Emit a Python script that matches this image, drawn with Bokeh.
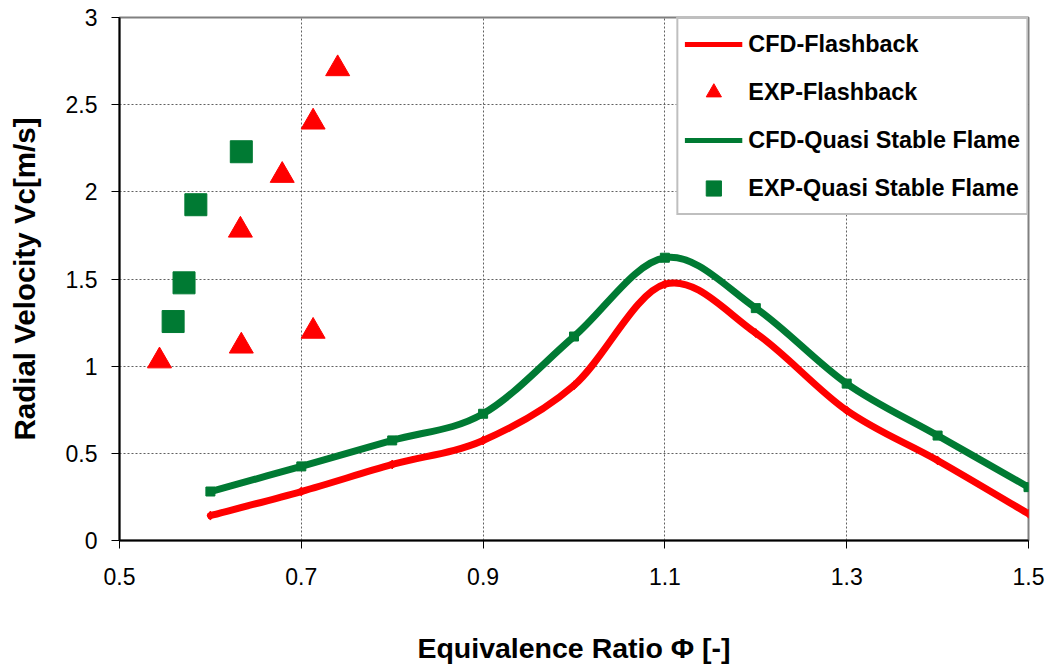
import numpy as np
from bokeh.plotting import figure
from bokeh.models import Range1d, FixedTicker, Legend, LegendItem, ColumnDataSource
from bokeh.embed import file_html
from bokeh.resources import INLINE

# ---- data ----
phi_cfd = [0.6, 0.7, 0.8, 0.9, 1.0, 1.1, 1.2, 1.3, 1.4, 1.5]
vc_cfd_flash = [0.143, 0.281, 0.436, 0.574, 0.89, 1.47, 1.19, 0.746, 0.459, 0.153]
vc_cfd_quasi = [0.281, 0.425, 0.574, 0.727, 1.17, 1.622, 1.333, 0.90, 0.602, 0.306]
phi_exp_flash = [0.544, 0.634, 0.713, 0.633, 0.679, 0.713, 0.740]
vc_exp_flash = [1.03, 1.115, 1.20, 1.78, 2.094, 2.40, 2.706]
phi_exp_quasi = [0.559, 0.571, 0.584, 0.634]
vc_exp_quasi = [1.256, 1.478, 1.926, 2.23]
x_ticks = [0.5, 0.7, 0.9, 1.1, 1.3, 1.5]
x_tick_labels = ["0.5", "0.7", "0.9", "1.1", "1.3", "1.5"]
y_ticks = [0, 0.5, 1, 1.5, 2, 2.5, 3]
y_tick_labels = ["0", "0.5", "1", "1.5", "2", "2.5", "3"]

RED = "#ff0000"
GREEN = "#007a33"
FONT = "Liberation Sans"


def bezier_source(x, y):
    """Excel-style smoothed line: cubic Bezier control points (Catmull-Rom, tension 1/6)."""
    x = np.asarray(x, float)
    y = np.asarray(y, float)
    n = len(x)
    d = dict(x0=[], y0=[], x1=[], y1=[], cx0=[], cy0=[], cx1=[], cy1=[])
    for i in range(n - 1):
        a = i - 1 if i > 0 else i
        b = i + 2 if i + 2 < n else i + 1
        d["x0"].append(x[i]); d["y0"].append(y[i])
        d["x1"].append(x[i + 1]); d["y1"].append(y[i + 1])
        d["cx0"].append(x[i] + (x[i + 1] - x[a]) / 6)
        d["cy0"].append(y[i] + (y[i + 1] - y[a]) / 6)
        d["cx1"].append(x[i + 1] - (x[b] - x[i]) / 6)
        d["cy1"].append(y[i + 1] - (y[b] - y[i]) / 6)
    return ColumnDataSource(d)


p = figure(width=1048, height=668, output_backend="svg", toolbar_location=None,
           x_range=Range1d(0.5, 1.5), y_range=Range1d(0, 3),
           min_border_left=119, min_border_right=20, min_border_top=17, min_border_bottom=128,
           background_fill_color="white", border_fill_color="white")

p.outline_line_color = "#808080"
p.outline_line_width = 2

# grid
for g in (p.xgrid, p.ygrid):
    g.grid_line_color = "#606060"
    g.grid_line_dash = "2 2"
    g.grid_line_width = 1
p.xgrid.ticker = FixedTicker(ticks=x_ticks)
p.ygrid.ticker = FixedTicker(ticks=y_ticks)

# axes
p.xaxis.ticker = FixedTicker(ticks=x_ticks)
p.yaxis.ticker = FixedTicker(ticks=y_ticks)
p.xaxis.major_label_overrides = dict(zip(x_ticks, x_tick_labels))
p.yaxis.major_label_overrides = dict(zip(y_ticks, y_tick_labels))
for ax in (p.xaxis, p.yaxis):
    ax.axis_line_color = "black"
    ax.axis_line_width = 2
    ax.major_tick_line_color = "black"
    ax.major_tick_line_width = 1
    ax.major_tick_out = 8
    ax.major_tick_in = 0
    ax.minor_tick_line_color = None
    ax.major_label_text_font = FONT
    ax.major_label_text_font_size = "23px"
    ax.major_label_text_color = "black"
    ax.axis_label_text_font = FONT
    ax.axis_label_text_font_style = "bold"
    ax.axis_label_text_color = "black"
p.xaxis.axis_label = "Equivalence Ratio Φ [-]"
p.yaxis.axis_label = "Radial Velocity Vc[m/s]"
p.xaxis.axis_label_text_font_size = "28.5px"
p.yaxis.axis_label_text_font_size = "29.5px"
p.xaxis.major_label_standoff = 19
p.yaxis.major_label_standoff = 14
p.xaxis.axis_label_standoff = 44
p.yaxis.axis_label_standoff = 22

# smoothed CFD curves
src_r = bezier_source(phi_cfd, vc_cfd_flash)
src_g = bezier_source(phi_cfd, vc_cfd_quasi)
p.bezier(x0="x0", y0="y0", x1="x1", y1="y1", cx0="cx0", cy0="cy0", cx1="cx1", cy1="cy1",
         source=src_r, line_color=RED, line_width=7, line_cap="round")
p.bezier(x0="x0", y0="y0", x1="x1", y1="y1", cx0="cx0", cy0="cy0", cx1="cx1", cy1="cy1",
         source=src_g, line_color=GREEN, line_width=7, line_cap="round")
p.scatter(phi_cfd, vc_cfd_flash, marker="diamond", size=9, color=RED)
p.scatter(phi_cfd, vc_cfd_quasi, marker="square", size=9, color=GREEN)

# experiments
r_exp_f = p.scatter(phi_exp_flash, vc_exp_flash, marker="triangle", size=24, color=RED)
r_exp_q = p.scatter(phi_exp_quasi, vc_exp_quasi, marker="square", size=22, color=GREEN)

# legend proxies (single NaN point: nothing drawn in the plot)
leg_r = p.line([np.nan], [np.nan], line_color=RED, line_width=5)
leg_g = p.line([np.nan], [np.nan], line_color=GREEN, line_width=5)

legend = Legend(items=[
    LegendItem(label="CFD-Flashback", renderers=[leg_r]),
    LegendItem(label="EXP-Flashback", renderers=[r_exp_f]),
    LegendItem(label="CFD-Quasi Stable Flame", renderers=[leg_g]),
    LegendItem(label="EXP-Quasi Stable Flame", renderers=[r_exp_q]),
], location="top_right")
legend.margin = 0
legend.padding = 6
legend.spacing = 10
legend.label_height = 38
legend.glyph_height = 38
legend.glyph_width = 58
legend.label_standoff = 6
legend.label_text_font = FONT
legend.label_text_font_size = "23.4px"
legend.label_text_font_style = "bold"
legend.label_text_color = "black"
legend.border_line_color = "#808080"
legend.border_line_width = 2
legend.background_fill_color = "white"
legend.background_fill_alpha = 1
p.add_layout(legend)

open("out.html", "w").write(file_html(p, INLINE))
